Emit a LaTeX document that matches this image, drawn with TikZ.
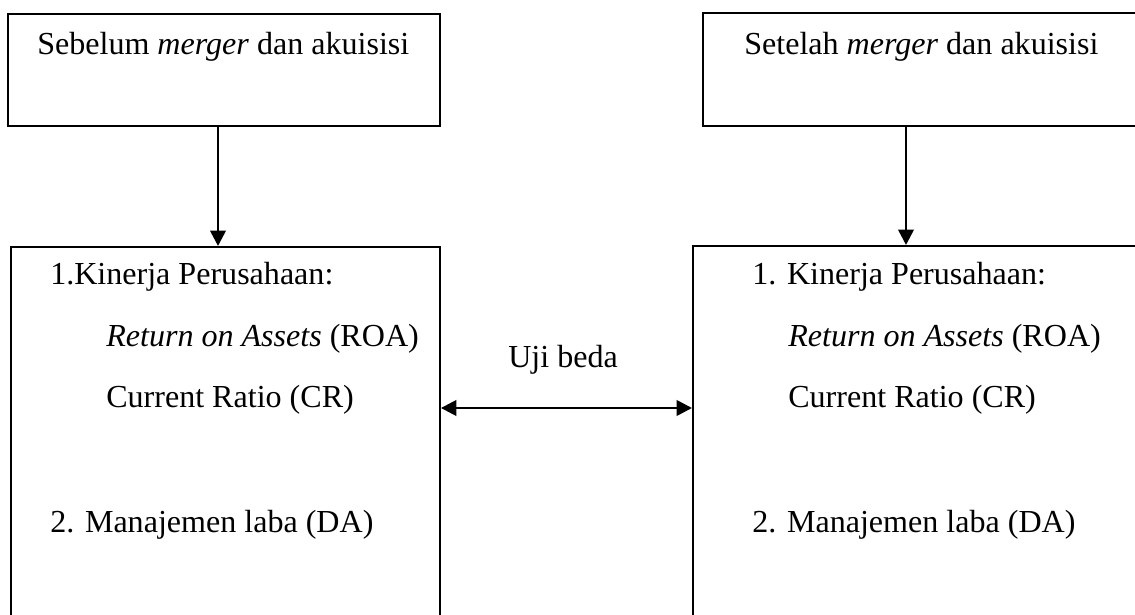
\documentclass[tikz,border=0pt]{standalone}
\usepackage{fontspec}
\setmainfont{Liberation Serif}
\usetikzlibrary{arrows.meta}

\tikzset{
    kotak/.style={draw, line width=1.3pt, anchor=north west, inner sep=0pt},
    teks/.style={anchor=base west, inner sep=0pt, font=\fontsize{22.8}{27}\selectfont},
    ujung/.tip={Triangle[length=11pt, width=11pt]},
    panah/.style={line width=1.9pt, -ujung},
}

\begin{document}
\begin{tikzpicture}[x=0.025cm, y=-0.025cm]
    \useasboundingbox (0,0) rectangle (1135,615);
    \clip (0,0) rectangle (1135,615);

    % Kotak sebelum dan setelah
    \node[kotak, minimum width=10.8cm, minimum height=2.8cm] (sebelum) at (7,13) {};
    \node[kotak, minimum width=11.45cm, minimum height=2.825cm] (setelah) at (702,12) {};
    \node[teks] (judulA) at (37,55) {Sebelum \textit{merger} dan akuisisi};
    \node[teks] (judulB) at (744,55) {Setelah \textit{merger} dan akuisisi};

    % Kotak variabel
    \node[kotak, minimum width=10.725cm, minimum height=10.2cm] (variabelA) at (10,246) {};
    \node[kotak, minimum width=11.45cm, minimum height=10.2cm] (variabelB) at (692,245) {};

    \node[teks] (kinerjaA) at (50,285) {1.Kinerja Perusahaan:};
    \node[teks] (roaA) at (106,347) {\textit{Return on Assets} (ROA)};
    \node[teks] (crA) at (106,407) {Current Ratio (CR)};
    \node[teks] (labaA) at (50,532) {2. Manajemen laba (DA)};

    \node[teks] (kinerjaB) at (752,285) {1. Kinerja Perusahaan:};
    \node[teks] (roaB) at (788,347) {\textit{Return on Assets} (ROA)};
    \node[teks] (crB) at (788,407) {Current Ratio (CR)};
    \node[teks] (labaB) at (752,532) {2. Manajemen laba (DA)};

    % Panah
    \coordinate (kiri) at (218,0);
    \coordinate (kanan) at (906,0);
    \coordinate (tengah) at (0,408);
    \draw[panah] (sebelum.south -| kiri) -- (variabelA.north -| kiri);
    \draw[panah] (setelah.south -| kanan) -- (variabelB.north -| kanan);
    \draw[panah, ujung-ujung] (variabelA.east |- tengah) -- (variabelB.west |- tengah);
    \node[teks] (uji) at (508,368) {Uji beda};
\end{tikzpicture}
\end{document}
